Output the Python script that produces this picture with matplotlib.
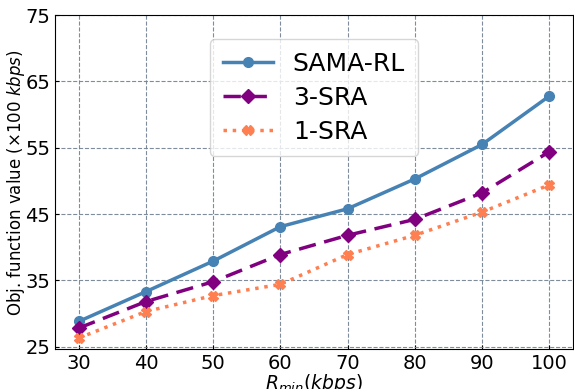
import matplotlib
matplotlib.use("Agg")
import matplotlib.pyplot as plt

# R_min values (kbps) and objective values (x100 kbps)
r_min = [30, 40, 50, 60, 70, 80, 90, 100]
sama_rl = [28.8, 33.3, 37.9, 43.1, 45.8, 50.3, 55.5, 62.8]
sra_3 = [27.8, 31.8, 34.8, 38.9, 41.8, 44.2, 48.2, 54.4]
sra_1 = [26.3, 30.3, 32.7, 34.4, 38.9, 41.8, 45.3, 49.4]
yticks = [25, 35, 45, 55, 65, 75]

fig = plt.figure(figsize=(5.74, 3.89), dpi=100)
ax = fig.add_axes([0.096, 0.102, 0.902, 0.859])

ax.plot(r_min, sama_rl, color='steelblue', linestyle='-', linewidth=2.5,
        marker='o', markersize=7, label='SAMA-RL')
ax.plot(r_min, sra_3, color='purple', linestyle='--', linewidth=2.5,
        marker='D', markersize=7, dashes=(5, 2.5), label='3-SRA')
ax.plot(r_min, sra_1, color='coral', linestyle=':', linewidth=2.5,
        marker='X', markersize=7, label='1-SRA')

ax.set_xlim(26.5, 103.5)
ax.set_ylim(24.6, 75)
ax.set_xticks(r_min)
ax.set_yticks(yticks)
ax.tick_params(axis='both', labelsize=14, direction='in', length=3)
ax.grid(True, linestyle='--', color='slategray', linewidth=0.8, alpha=0.9)

ax.set_xlabel(r'$R_{min}(kbps)$', fontsize=13.5, labelpad=-1)
ax.set_ylabel(r'Obj. function value ($\times$100 $kbps$)', fontsize=12, labelpad=-1)

ax.legend(loc='upper center', bbox_to_anchor=(0.5, 0.965), fontsize=18,
          handlelength=2.0, borderpad=0.5, labelspacing=0.4)

fig.savefig('out.png', dpi=100)
